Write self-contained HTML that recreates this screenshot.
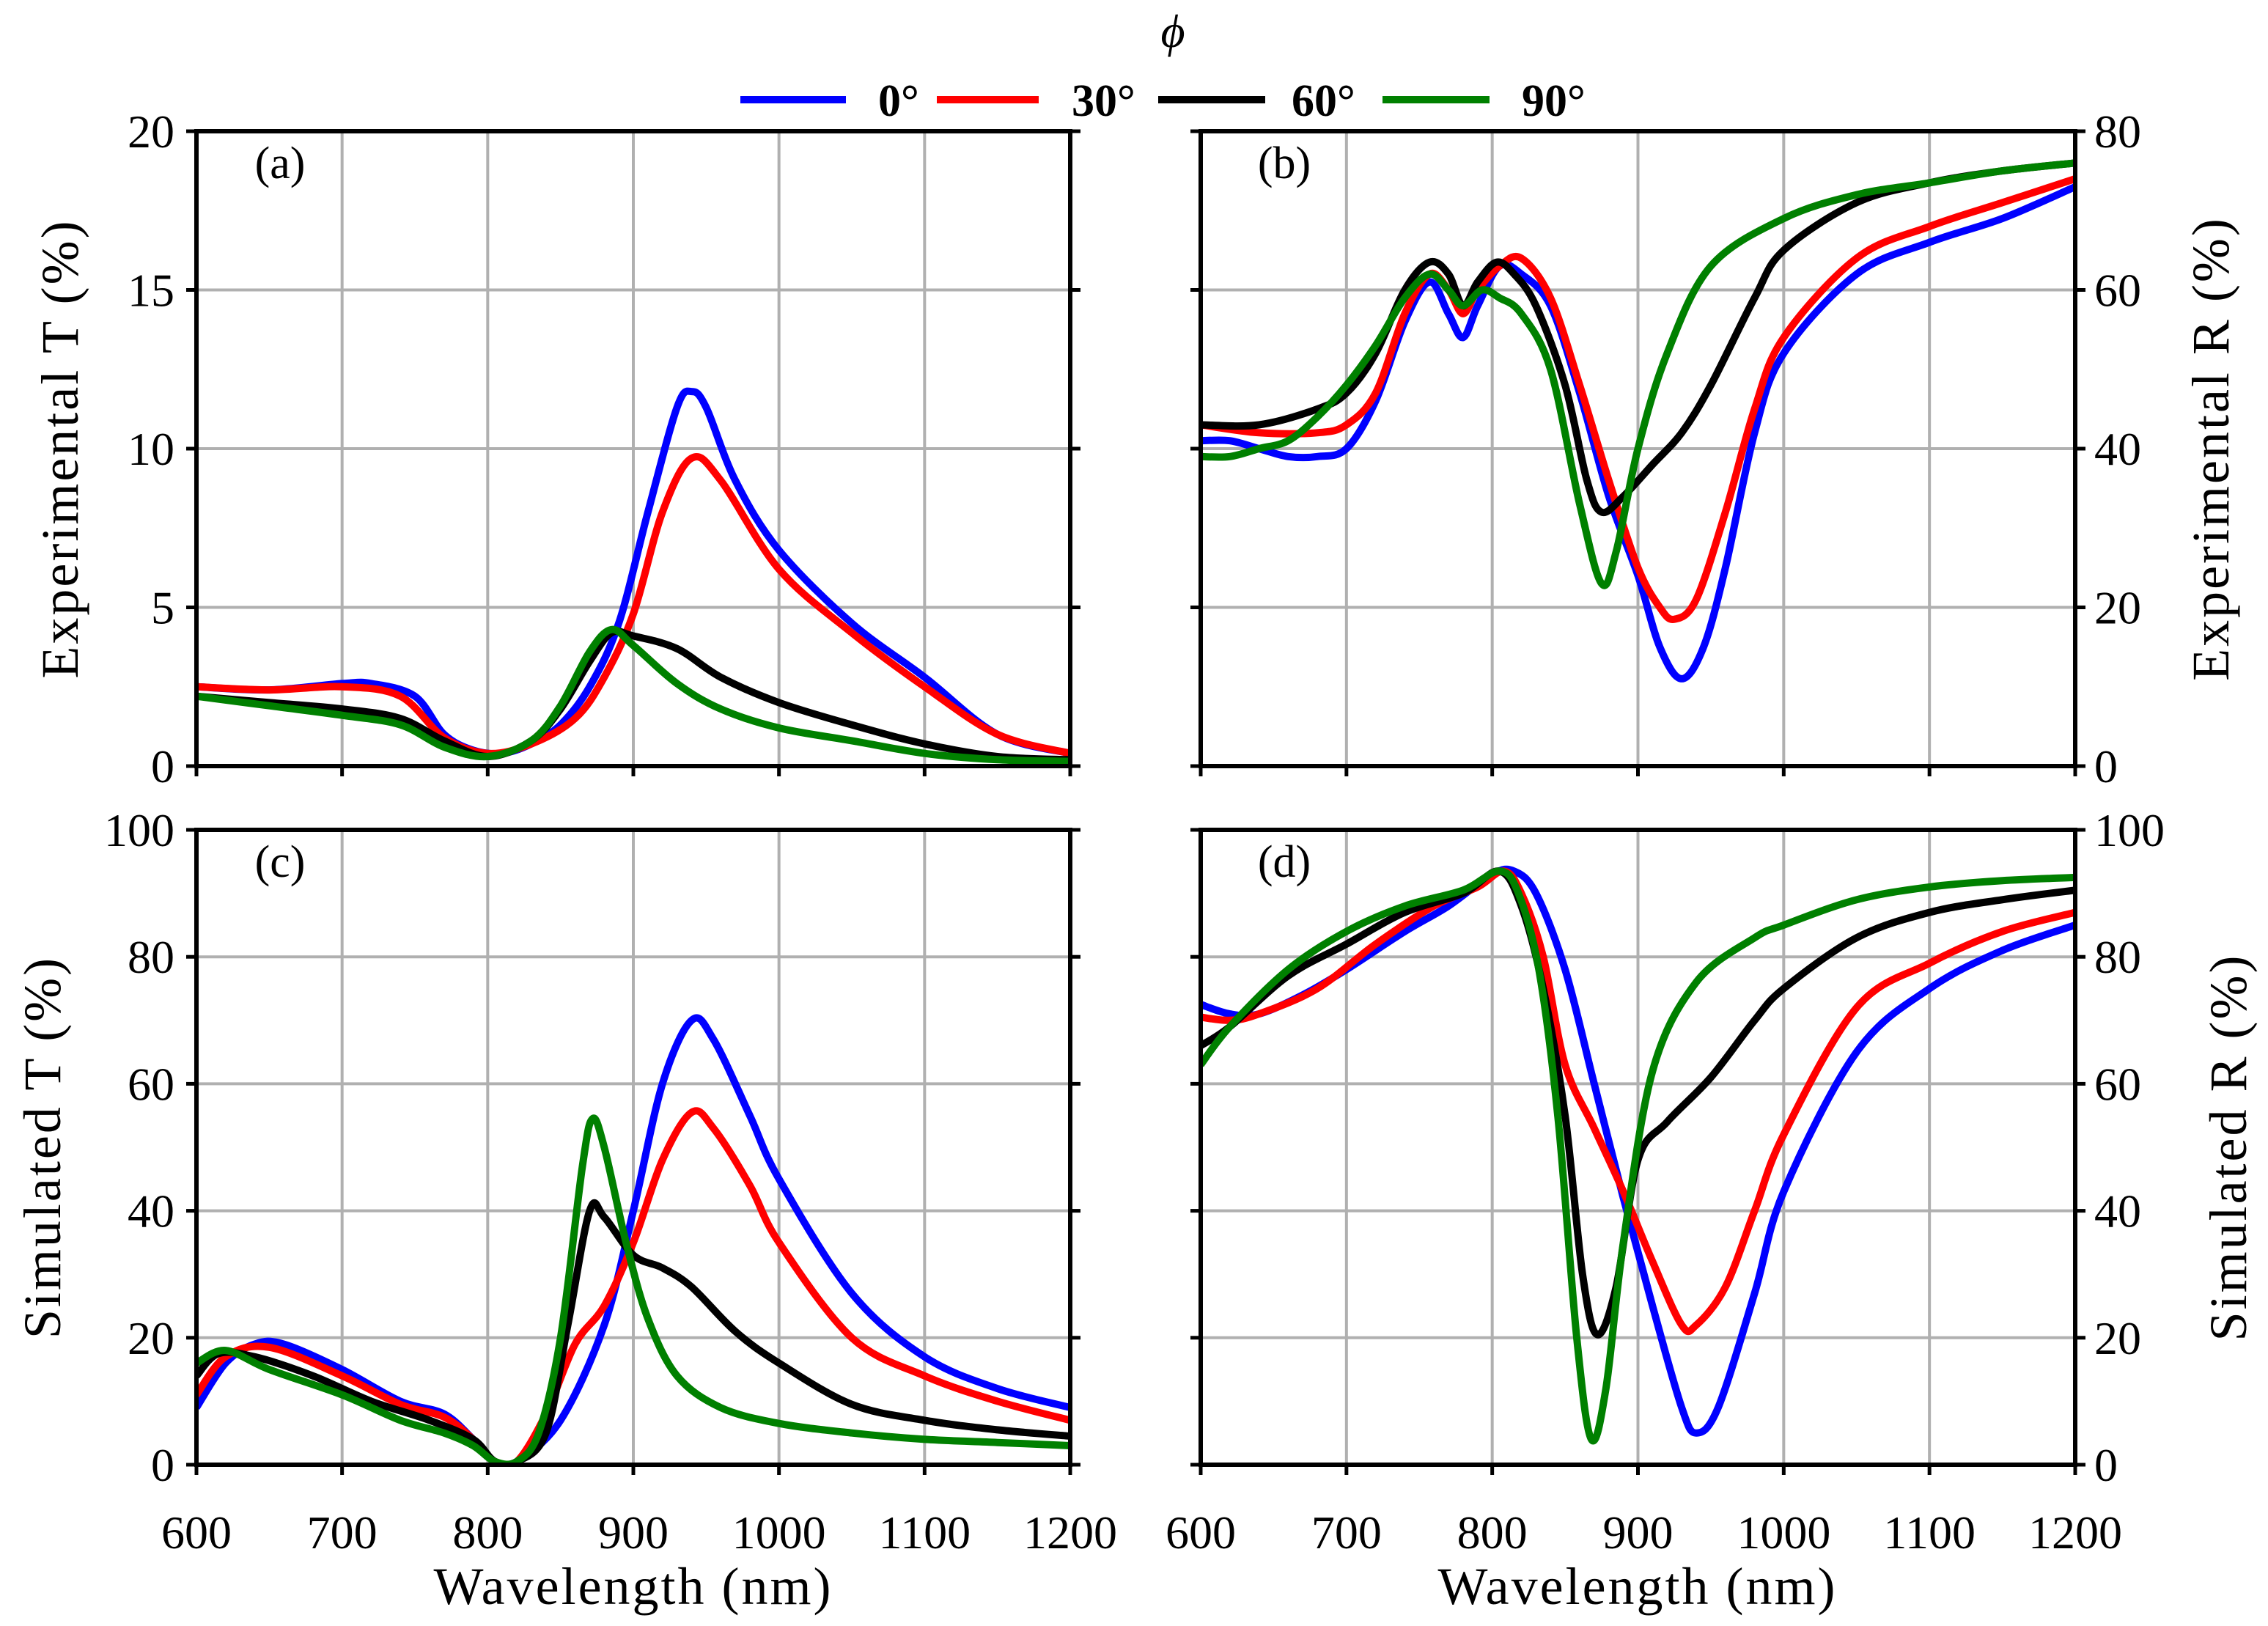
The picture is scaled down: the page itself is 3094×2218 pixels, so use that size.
<!DOCTYPE html>
<html><head><meta charset="utf-8"><style>
html,body{margin:0;padding:0;background:#fff;}
svg{display:block;font-family:"Liberation Serif",serif;}
</style></head><body>
<svg id="fig" width="3094" height="2218" viewBox="0 0 3094 2218" xmlns="http://www.w3.org/2000/svg">
<g id="grids"></g><g id="series"></g><g id="axes"></g><g id="labels"></g>
<g>
<text x="1600" y="64" font-size="64" font-style="italic" text-anchor="middle">ϕ</text>
<line x1="1010" y1="136" x2="1154" y2="136" stroke="#0000ff" stroke-width="10"/>
<text x="1198" y="158" font-size="62" font-weight="bold">0°</text>
<line x1="1278" y1="136" x2="1417" y2="136" stroke="#ff0000" stroke-width="10"/>
<text x="1462" y="158" font-size="62" font-weight="bold">30°</text>
<line x1="1580" y1="136" x2="1726" y2="136" stroke="#000" stroke-width="10"/>
<text x="1762" y="158" font-size="62" font-weight="bold">60°</text>
<line x1="1886" y1="136" x2="2032" y2="136" stroke="#008000" stroke-width="10"/>
<text x="2076" y="158" font-size="62" font-weight="bold">90°</text>
</g>
</svg>
<script>
// ---- data ----
const aX0=[600,650,700,720,750,770,790,810,830,850,870,890,910,930,940,950,970,1000,1050,1100,1150,1200];
const aY0=[2.5,2.4,2.6,2.6,2.2,1.0,0.5,0.4,0.7,1.3,2.5,4.5,8,11.3,11.8,11.3,9,6.8,4.5,2.8,1.0,0.4];
const aX30=[600,650,700,740,770,800,830,860,880,900,920,940,960,1000,1050,1100,1150,1200];
const aY30=[2.5,2.4,2.5,2.2,0.9,0.4,0.7,1.5,2.8,4.8,8,9.7,9.0,6.2,4.2,2.5,1.0,0.4];
const aX60=[600,650,700,740,770,800,830,850,870,885,900,930,960,1000,1050,1100,1150,1200];
const aY60=[2.2,2.0,1.8,1.5,0.8,0.3,0.8,1.8,3.3,4.2,4.1,3.7,2.8,2.0,1.3,0.7,0.3,0.2];
const aX90=[600,650,700,740,770,800,830,850,870,885,900,930,960,1000,1050,1100,1150,1200];
const aY90=[2.2,1.9,1.6,1.3,0.6,0.3,0.8,1.9,3.6,4.3,3.8,2.6,1.8,1.2,0.8,0.4,0.2,0.15];

const bX0=[600,620,640,660,680,700,720,740,757,770,780,790,805,820,840,860,880,900,915,930,945,960,980,1000,1050,1100,1150,1200];
const bY0=[41,41,40,39,39,40,46,56,61,57,54,58,63,62,58,47,34,24,15,11,15,25,42,52,62,66,69,73];
const bX30=[600,640,680,700,720,740,757,770,780,790,805,820,840,860,880,900,915,925,940,960,980,1000,1050,1100,1150,1200];
const bY30=[43,42,42,43,47,57,62,60,57,60,63,64,59,48,36,25,20,18.5,21,32,45,54,64,68,71,74];
const bX60=[600,640,680,700,720,740,757,770,780,790,803,815,830,850,865,875,890,910,930,950,980,1000,1050,1100,1150,1200];
const bY60=[43,43,45,47,52,60,63.5,62,58,61,63.5,62,58,48,36,32,34,38,42,48,59,65,71,73.5,75,76];
const bX90=[600,620,640,660,680,700,720,740,757,770,780,793,805,820,840,860,875,885,900,920,950,1000,1050,1100,1150,1200];
const bY90=[39,39,40,41,44,48,53,59,62,60,58,60,59,57,50,33,23,27,40,52,63,69,72,73.5,75,76];

const cX0=[600,620,640,660,700,740,770,790,805,820,850,880,900,920,940,955,980,1000,1050,1100,1150,1200];
const cY0=[9,16,19,19,15,10,8,4,0.5,0.5,7,22,40,60,70,67,55,45,27,17,12,9];
const cX30=[600,620,650,700,740,770,790,805,820,840,860,880,900,920,940,955,980,1000,1050,1100,1150,1200];
const cY30=[11,17,18.5,14,9.5,7.5,4,0.5,0.5,8,19,25,35,48,55.5,53,44,35,20,14,10,7];
const cX60=[600,615,640,680,720,760,790,805,820,840,855,870,880,900,920,940,970,1000,1050,1100,1150,1200];
const cY60=[14,17.5,17,14,10,7,4,0.5,0.5,5,22,40,39,33,31,28,21,16,9.5,7,5.5,4.5];
const cX90=[600,620,650,700,740,770,790,805,820,835,850,865,872,880,895,910,930,960,1000,1050,1100,1150,1200];
const cY90=[16,18,15,11,7,5,3,0.5,0.5,5,20,47,54.5,50,35,23,14,9,6.5,5,4,3.5,3];

const dX0=[600,620,640,670,700,740,770,800,815,830,850,870,890,910,930,940,955,980,1000,1050,1100,1150,1200];
const dY0=[72.5,71,71,74,78,84,88,93,93.5,90,78,60,42,25,9,5,9,27,43,65,75,81,85];
const dX30=[600,620,640,680,720,760,790,808,820,835,850,870,890,910,930,940,960,980,1000,1050,1100,1150,1200];
const dY30=[70.5,70,71,75,82,88,91,93.5,90,80,63,53,43,32,22,22,28,40,52,72,79,84,87];
const dX60=[600,620,660,700,740,780,805,820,835,850,862,872,885,900,920,950,980,1000,1050,1100,1150,1200];
const dY60=[66,69,77,82,87,90,93.5,88,75,55,30,20.5,28,48,54,61,70,75,83,87,89,90.5];
const dX90=[600,620,660,700,740,780,805,818,832,845,858,868,878,890,910,940,980,1000,1050,1100,1150,1200];
const dY90=[63,69,78,84,88,90.5,93.5,90,78,55,20,4,12,35,62,76,83,85,89,91,92,92.5];

const xTicks=[600,700,800,900,1000,1100,1200];
const aTicks=[0,5,10,15,20];
const bTicks=[0,20,40,60,80];
const cTicks=[0,20,40,60,80,100];

const NS="http://www.w3.org/2000/svg";
function mk(tag,attrs,parent){const e=document.createElementNS(NS,tag);for(const k in attrs)e.setAttribute(k,attrs[k]);parent.appendChild(e);return e;}
const G=document.getElementById('grids'),S=document.getElementById('series'),A=document.getElementById('axes'),L=document.getElementById('labels');

const panels=[
 {id:'a',x0:268,x1:1460,y0:179,y1:1045,ymax:20,ticks:aTicks,side:'left',xl:false,
  series:[[aX0,aY0,'#0000ff','0'],[aX30,aY30,'#ff0000','30'],[aX60,aY60,'#000000','60'],[aX90,aY90,'#008000','90']]},
 {id:'b',x0:1638,x1:2831,y0:179,y1:1045,ymax:80,ticks:bTicks,side:'right',xl:false,
  series:[[bX0,bY0,'#0000ff','0'],[bX30,bY30,'#ff0000','30'],[bX60,bY60,'#000000','60'],[bX90,bY90,'#008000','90']]},
 {id:'c',x0:268,x1:1460,y0:1132,y1:1998,ymax:100,ticks:cTicks,side:'left',xl:true,
  series:[[cX0,cY0,'#0000ff','0'],[cX30,cY30,'#ff0000','30'],[cX60,cY60,'#000000','60'],[cX90,cY90,'#008000','90']]},
 {id:'d',x0:1638,x1:2831,y0:1132,y1:1998,ymax:100,ticks:cTicks,side:'right',xl:true,
  series:[[dX0,dY0,'#0000ff','0'],[dX30,dY30,'#ff0000','30'],[dX60,dY60,'#000000','60'],[dX90,dY90,'#008000','90']]}
];

function pathFrom(pts){
 let d='M'+pts[0][0].toFixed(1)+','+pts[0][1].toFixed(1);
 for(let i=0;i<pts.length-1;i++){
  const p0=pts[Math.max(0,i-1)],p1=pts[i],p2=pts[i+1],p3=pts[Math.min(pts.length-1,i+2)];
  const c1x=p1[0]+(p2[0]-p0[0])/6,c1y=p1[1]+(p2[1]-p0[1])/6;
  const c2x=p2[0]-(p3[0]-p1[0])/6,c2y=p2[1]-(p3[1]-p1[1])/6;
  d+=' C'+c1x.toFixed(1)+','+c1y.toFixed(1)+' '+c2x.toFixed(1)+','+c2y.toFixed(1)+' '+p2[0].toFixed(1)+','+p2[1].toFixed(1);
 }
 return d;
}

panels.forEach(p=>{
 const sx=v=>p.x0+(v-600)/600*(p.x1-p.x0);
 const sy=v=>p.y1-v/p.ymax*(p.y1-p.y0);
 const cp=mk('clipPath',{id:'clip-'+p.id},S);
 mk('rect',{x:p.x0,y:p.y0,width:p.x1-p.x0,height:p.y1-p.y0},cp);
 xTicks.forEach(t=>{
  if(t>600&&t<1200){const gl=mk('line',{x1:sx(t),y1:p.y0,x2:sx(t),y2:p.y1,stroke:'#b0b0b0','stroke-width':4},G);
   
   }
  const tk=mk('line',{x1:sx(t),y1:p.y1,x2:sx(t),y2:p.y1+14,stroke:'#000','stroke-width':5},A);
  
  
  if(p.xl){const tl=mk('text',{x:sx(t),y:2112,'font-size':64,'text-anchor':'middle'},L);tl.textContent=t;
   
   }
 });
 p.ticks.forEach(t=>{
  if(t>0&&t<p.ymax){const gl=mk('line',{x1:p.x0,y1:sy(t),x2:p.x1,y2:sy(t),stroke:'#b0b0b0','stroke-width':4},G);
   
   }
  [p.x0,p.x1].forEach(xx=>{
   const out=(xx===p.x0)?-14:14;
   const tk=mk('line',{x1:xx,y1:sy(t),x2:xx+out,y2:sy(t),stroke:'#000','stroke-width':5},A);
   
   
  });
  const tl=(p.side==='left')?mk('text',{x:p.x0-30,y:sy(t)+22,'font-size':64,'text-anchor':'end'},L):mk('text',{x:p.x1+26,y:sy(t)+22,'font-size':64,'text-anchor':'start'},L);
  tl.textContent=t;
  
  
 });
 p.series.forEach(s=>{
  const pts=s[0].map((x,i)=>[sx(x),sy(s[1][i])]);
  const pa=mk('path',{d:pathFrom(pts),fill:'none',stroke:s[2],'stroke-width':10,'stroke-linejoin':'round','clip-path':'url(#clip-'+p.id+')'},S);
  
  
 });
 const fr=mk('rect',{x:p.x0,y:p.y0,width:p.x1-p.x0,height:p.y1-p.y0,fill:'none',stroke:'#000','stroke-width':6},A);
 
 
 const pl=mk('text',{x:p.x0+114,y:p.y0+64,'font-size':62,'text-anchor':'middle'},L);
 pl.textContent='('+p.id+')';
 
 
});

function label(txt,x,y,rot,name){
 const t=mk('text',{x:x,y:y,'font-size':72,'letter-spacing':3,'text-anchor':'middle',transform:rot?('rotate('+rot+' '+x+' '+y+')'):''},L);
 t.textContent=txt;
 
 
}
label('Experimental T (%)',106,612,-90,'y-axis-title-a');
label('Simulated T (%)',82,1565,-90,'y-axis-title-c');
label('Experimental R (%)',3040,612,-90,'y-axis-title-b');
label('Simulated R (%)',3064,1565,-90,'y-axis-title-d');
label('Wavelength (nm)',864,2188,0,'x-axis-title-c');
label('Wavelength (nm)',2234,2188,0,'x-axis-title-d');
</script>
</body></html>
